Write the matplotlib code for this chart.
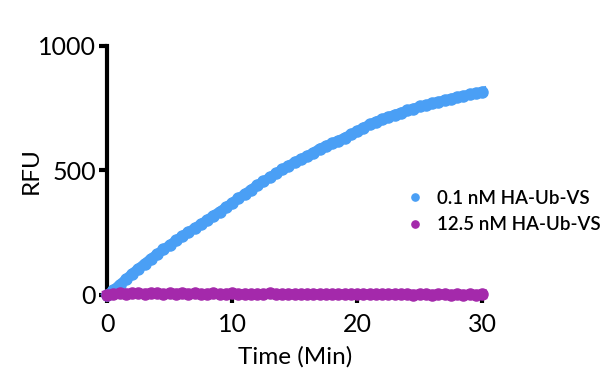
import numpy as np
from matplotlib import pyplot as plt

# --- data (every 0.5 min) ---
time_min = np.arange(0, 30.5, 0.5)

rfu_low = [0, 20, 42, 63, 86, 106, 126, 146, 164, 183,
           200, 219, 236, 253, 268, 285, 301, 319, 335, 352,
           370, 388, 405, 423, 440, 456, 472, 488, 504, 519,
           533, 546, 558, 572, 588, 598, 610, 620, 632, 645,
           658, 672, 685, 696, 706, 715, 724, 732, 741, 748,
           757, 762, 770, 776, 782, 788, 795, 799, 806, 810,
           816]

rfu_high = [0, 4, 6, 5, 7, 6, 5, 7, 6, 4,
            6, 5, 7, 5, 6, 4, 5, 6, 4, 5,
            6, 4, 5, 3, 5, 4, 6, 4, 3, 5,
            4, 3, 5, 4, 3, 4, 2, 4, 3, 5,
            3, 2, 4, 3, 2, 3, 4, 2, 3, 1,
            3, 2, 1, 3, 2, 1, 2, 1, 2, 1,
            2]

labels = ['0.1 nM HA-Ub-VS', '12.5 nM HA-Ub-VS']
colors = ['#4a9ff5', '#a429ab']

plt.rcParams['font.family'] = ['Lato', 'DejaVu Sans']

fig = plt.figure(figsize=(6.12, 3.89), dpi=100)
ax = fig.add_axes([0.175, 0.2417, 0.613, 0.6403])

ax.plot(time_min, rfu_low, 'o-', color=colors[0], ms=8, lw=7,
        clip_on=False, zorder=3, label=labels[0])
ax.plot(time_min, rfu_high, 'o-', color=colors[1], ms=8, lw=7,
        clip_on=False, zorder=4, label=labels[1])

ax.set_xlim(0, 30)
ax.set_ylim(0, 1000)
ax.set_xticks([0, 10, 20, 30])
ax.set_yticks([0, 500, 1000])

for side in ['top', 'right']:
    ax.spines[side].set_visible(False)
ax.spines['left'].set_linewidth(3)
ax.spines['bottom'].set_linewidth(3)
ax.tick_params(width=3, length=6, labelsize=18)
ax.tick_params(axis='x', pad=7)
ax.tick_params(axis='y', pad=2)

ax.set_xlabel('Time (Min)', fontsize=17.5, labelpad=7)
ax.set_ylabel('RFU', fontsize=17.5, labelpad=-3)

leg = ax.legend(loc='center left', bbox_to_anchor=(0.762, 0.335),
                frameon=False, prop={'size': 13.5, 'weight': 'semibold'},
                handlelength=0.6, handletextpad=0.85, labelspacing=0.5,
                markerscale=0.65)
for h in leg.legend_handles:
    h.set_linestyle('')

fig.savefig('out.png', dpi=100)
